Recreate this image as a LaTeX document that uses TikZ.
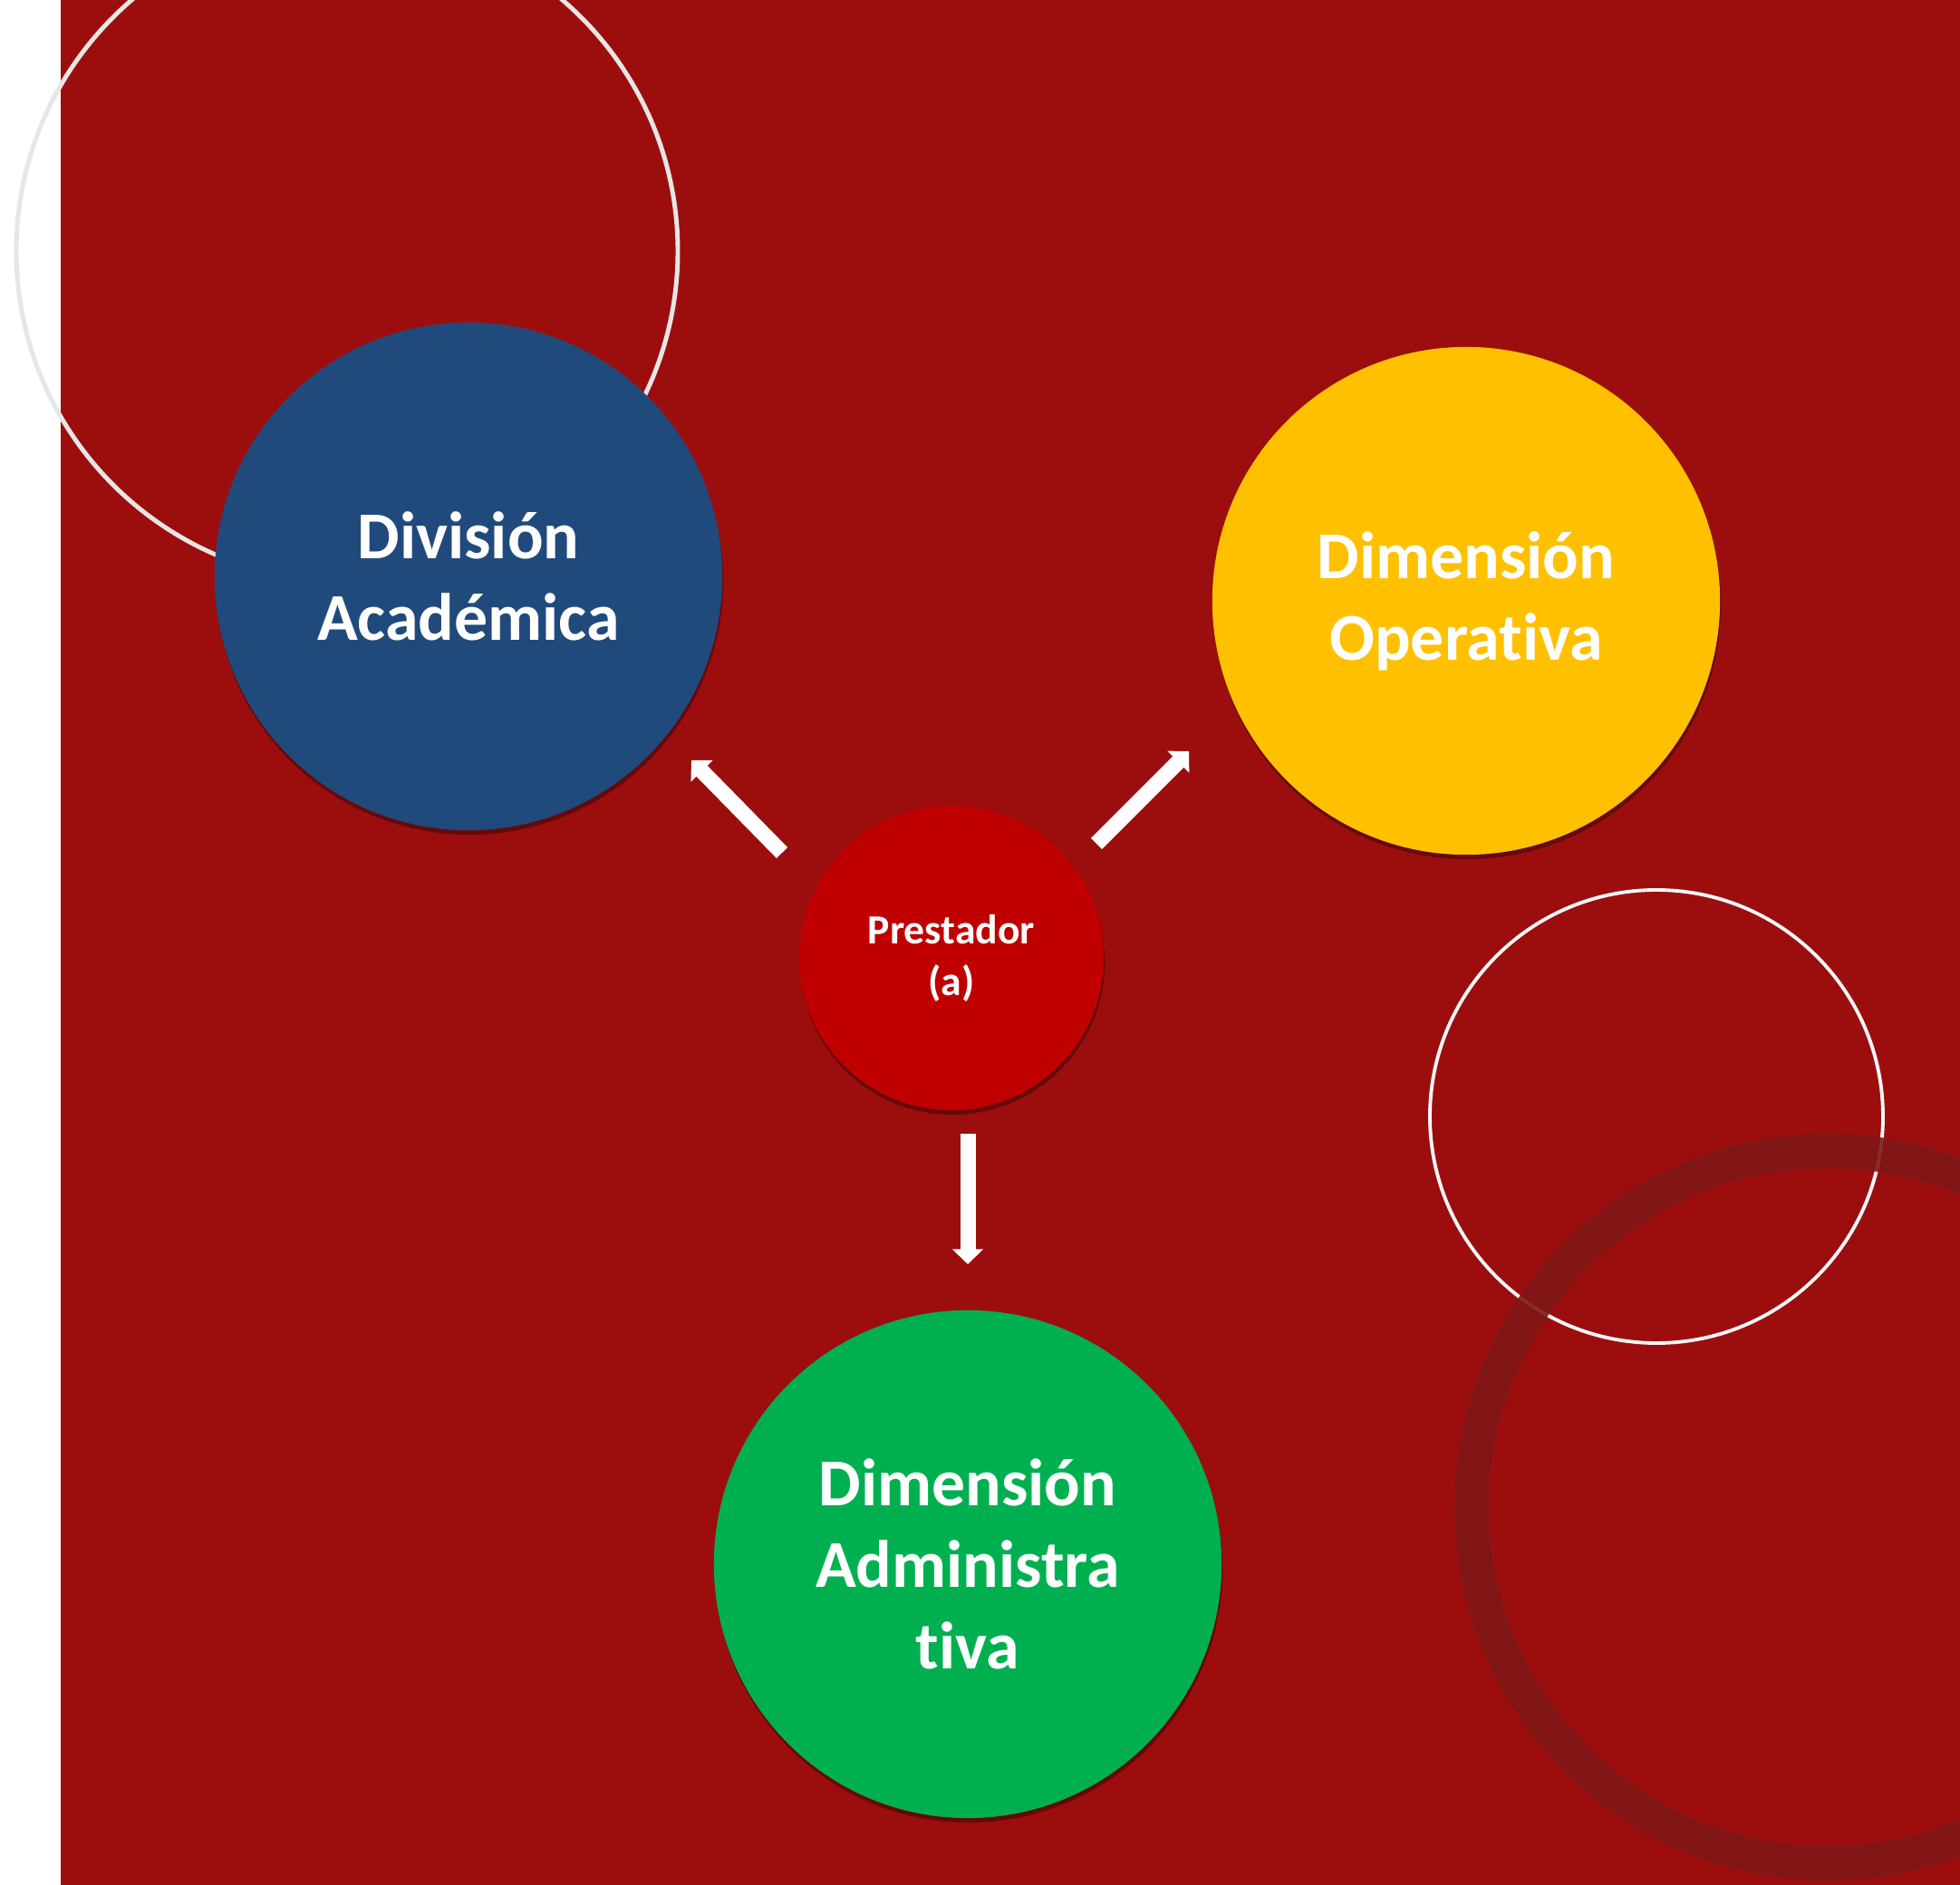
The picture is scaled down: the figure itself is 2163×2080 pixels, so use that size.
\documentclass[tikz,border=0pt]{standalone}
\usepackage{fontspec}
\setmainfont{Carlito}[Ligatures={NoCommon,NoContextual}]
\usetikzlibrary{arrows.meta,shadows}
\definecolor{fondo}{RGB}{156,14,14}
\definecolor{anillo}{RGB}{128,22,22}
\definecolor{azul}{RGB}{33,74,124}
\definecolor{amarillo}{RGB}{255,192,0}
\definecolor{verde}{RGB}{0,176,80}
\definecolor{rojo}{RGB}{192,0,0}
\definecolor{contorno}{RGB}{230,230,230}
\tikzset{
	dimension/.style={circle,minimum size=5.6cm,inner sep=0pt,text=white,align=center,font=\fontsize{21}{25.6}\selectfont\bfseries,drop shadow={shadow xshift=0.3pt,shadow yshift=-1.4pt,opacity=0.35,fill=black}},
	flecha/.style={draw=white,line width=4.84pt,-{Triangle[length=4.7pt,width=9.4pt]}}
}
\begin{document}
\begin{tikzpicture}[x=0.01cm,y=-0.01cm]
	\useasboundingbox (0,0) rectangle (2163,2080);
	\clip (0,0) rectangle (2163,2080);
	\fill[white] (0,0) rectangle (2163,2080);
	\fill[fondo] (67,0) rectangle (2163,2080);
	\draw[contorno,line width=1.4pt] (383,277) circle (365);
	\draw[white!94!gray,line width=1.1pt] (1828,1232) circle (250);
	\draw[anillo,opacity=0.9,line width=10.8pt] (2017,1663) circle (393);
	\foreach \X/\Y/\C/\N/\T in {517/636/azul/div/{División\\Académica},1618/663/amarillo/ope/{Dimensión\\Operativa},1068/1726/verde/adm/{Dimensión\\Administra\\tiva}}
	{\node[dimension,fill=\C] (\N) at (\X,\Y) {\T};}
	\node[dimension,fill=rojo,minimum size=3.36cm,font=\fontsize{13}{16.2}\selectfont\bfseries] (pre) at (1050,1057) {Prestador\\(a)};
	\foreach \A/\B/\C/\D [count=\Z] in {863/941/763/839, 1210/931/1312/829, 1068/1251/1068/1395}
	{\coordinate (s\Z) at (\A,\B);
	\coordinate (e\Z) at (\C,\D);
	\draw[flecha] (s\Z) -- (e\Z);}
\end{tikzpicture}
\end{document}
